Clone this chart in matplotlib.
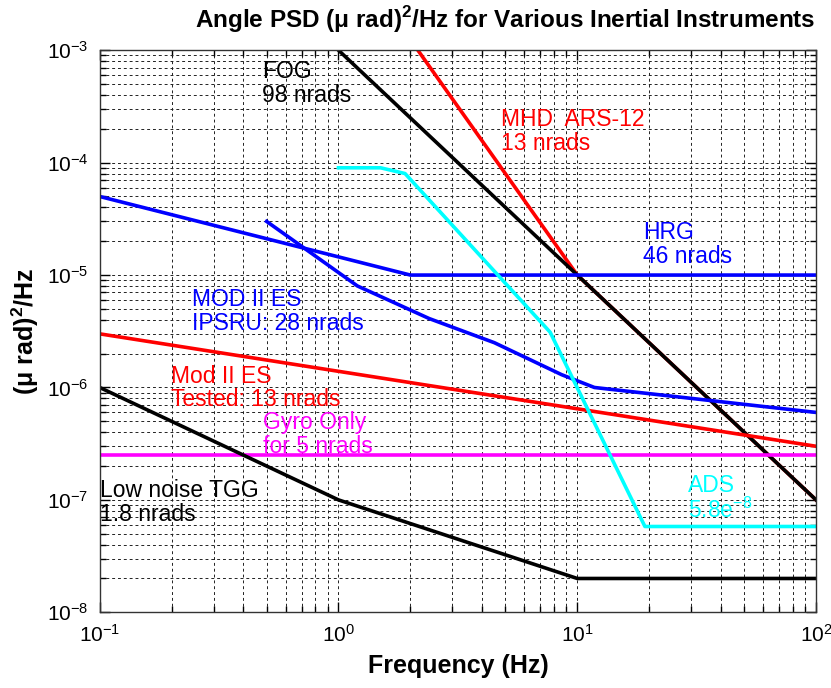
import matplotlib
matplotlib.use("Agg")
import matplotlib.pyplot as plt
from matplotlib import font_manager

available = {f.name for f in font_manager.fontManager.ttflist}
narrow = "Liberation Sans Narrow" if "Liberation Sans Narrow" in available else "Liberation Sans"

plt.rcParams["font.family"] = ["Liberation Sans", "DejaVu Sans"]
plt.rcParams["mathtext.fontset"] = "custom"
plt.rcParams["mathtext.rm"] = "Liberation Sans"
plt.rcParams["mathtext.bf"] = "Liberation Sans:bold"

# Angle PSD curves, (frequency Hz, PSD (urad)^2/Hz)
fog_f = [1.0, 100.0]
fog_psd = [1e-3, 1e-7]

mhd_f = [2.15, 10.0, 100.0]
mhd_psd = [1e-3, 1e-5, 1e-7]

hrg_f = [0.1, 2.0, 100.0]
hrg_psd = [5e-5, 1e-5, 1e-5]

ipsru_f = [0.5, 1.2, 2.4, 4.5, 8.6, 11.8, 100.0]
ipsru_psd = [3e-5, 8e-6, 4.1e-6, 2.5e-6, 1.3e-6, 1.0e-6, 6e-7]

tested_f = [0.1, 100.0]
tested_psd = [3e-6, 3e-7]

gyro_f = [0.1, 100.0]
gyro_psd = [2.5e-7, 2.5e-7]

tgg_f = [0.1, 1.0, 10.0, 100.0]
tgg_psd = [1e-6, 1e-7, 2e-8, 2e-8]

ads_f = [1.0, 1.5, 1.9, 7.7, 19.2, 100.0]
ads_psd = [9e-5, 9e-5, 8e-5, 3.1e-6, 5.8e-8, 5.8e-8]

fig = plt.figure(figsize=(8.31, 6.88), dpi=100)
ax = fig.add_axes([0.120, 0.110, 0.862, 0.817])
ax.set_xscale("log")
ax.set_yscale("log")
ax.set_xlim(0.1, 100)
ax.set_ylim(1e-8, 1e-3)

lw = 2.6
ax.plot(mhd_f, mhd_psd, color="#ff0000", lw=lw)
ax.plot(fog_f, fog_psd, color="black", lw=lw)
ax.plot(hrg_f, hrg_psd, color="#0000ff", lw=lw)
ax.plot(ipsru_f, ipsru_psd, color="#0000ff", lw=lw)
ax.plot(tested_f, tested_psd, color="#ff0000", lw=lw)
ax.plot(gyro_f, gyro_psd, color="#ff00ff", lw=lw)
ax.plot(tgg_f, tgg_psd, color="black", lw=lw)
ax.plot(ads_f, ads_psd, color="#00ffff", lw=lw)

ax.grid(True, which="both", color="#222222", linestyle=(0, (3, 3)), linewidth=0.7)
ax.tick_params(which="both", direction="in", top=True, right=True, width=1.0)
ax.tick_params(which="major", length=7, labelsize=15, pad=8)
ax.tick_params(which="minor", length=4)
for s in ax.spines.values():
    s.set_linewidth(1.0)
    s.set_color("#333333")

fs = 16.5
kw = dict(fontsize=fs, va="top", linespacing=1.05)
ax.text(0.48, 8.2e-4, "FOG\n98 nrads", color="black", **kw)
ax.text(4.8, 3.05e-4, "MHD  ARS-12\n13 nrads", color="#ff0000", **kw)
ax.text(18.9, 3.0e-5, "HRG\n46 nrads", color="#0000ff", **kw)
ax.text(0.243, 7.6e-6, "MOD II ES\nIPSRU: 28 nrads", color="#0000ff", **kw)
ax.text(0.198, 1.6e-6, "Mod II ES\nTested: 13 nrads", color="#ff0000", **kw)
ax.text(0.485, 6.2e-7, "Gyro Only\nfor 5 nrads", color="#ff00ff", **kw)
ax.text(0.1, 1.52e-7, "Low noise TGG\n1.8 nrads", color="black", **kw)
ax.text(29.1, 1.7e-7, "ADS\n5.8e$^{-8}$", color="#00ffff", **kw)

fig.text(0.608, 0.972, "Angle PSD (\u03bc rad)$^\\mathbf{2}$/Hz for Various Inertial Instruments",
         fontsize=19 if narrow != "Liberation Sans" else 17.5, fontweight="bold",
         family=[narrow, "DejaVu Sans"], ha="center", va="center")
ax.set_xlabel("Frequency (Hz)", fontsize=18, fontweight="bold", labelpad=6)
ax.set_ylabel("(\u03bc rad)$^\\mathbf{2}$/Hz", fontsize=18, fontweight="bold", labelpad=4)

fig.savefig("out.png", dpi=100)
